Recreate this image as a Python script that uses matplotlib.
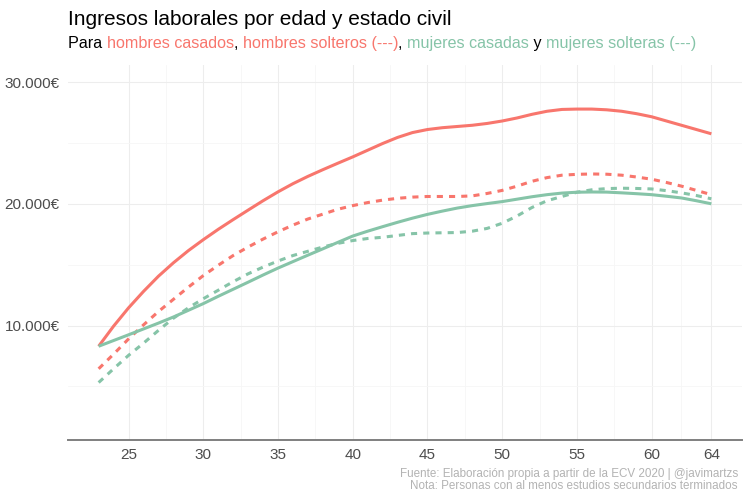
import matplotlib
matplotlib.use('Agg')
import matplotlib.pyplot as plt
from matplotlib.ticker import FuncFormatter, MultipleLocator

plt.rcParams['font.family'] = ['Liberation Sans', 'DejaVu Sans']

# Age axis
edad = list(range(23, 65))

# Smoothed labour income (EUR)
hombres_casados = [8300, 9950, 11450, 12800, 14050, 15150, 16150, 17050, 17900, 18700,
                   19480, 20250, 20980, 21650, 22250, 22800, 23330, 23850, 24400, 24950,
                   25450, 25850, 26100, 26250, 26350, 26450, 26600, 26800, 27050, 27350,
                   27600, 27750, 27780, 27780, 27720, 27600, 27400, 27150, 26800, 26450,
                   26100, 25750]
hombres_solteros = [6450, 7650, 8900, 10050, 11150, 12150, 13150, 14100, 14950, 15750,
                    16450, 17100, 17700, 18250, 18750, 19150, 19550, 19850, 20100, 20300,
                    20450, 20550, 20600, 20600, 20600, 20650, 20850, 21100, 21450, 21850,
                    22150, 22350, 22420, 22450, 22430, 22350, 22200, 22020, 21750, 21450,
                    21100, 20750]
mujeres_casadas = [8300, 8770, 9240, 9720, 10200, 10700, 11250, 11800, 12400, 12980,
                   13560, 14150, 14720, 15250, 15780, 16300, 16830, 17350, 17750, 18120,
                   18480, 18820, 19130, 19400, 19650, 19850, 20020, 20180, 20380, 20580,
                   20750, 20880, 20950, 20970, 20960, 20900, 20830, 20750, 20620, 20480,
                   20250, 20000]
mujeres_solteras = [5320, 6450, 7550, 8550, 9600, 10600, 11450, 12200, 12900, 13600,
                    14250, 14800, 15300, 15750, 16100, 16450, 16750, 16980, 17150, 17250,
                    17400, 17550, 17600, 17620, 17640, 17750, 17980, 18400, 19000, 19700,
                    20250, 20600, 20950, 21150, 21250, 21280, 21260, 21220, 21080, 20900,
                    20680, 20410]

x_ticks = [25, 30, 35, 40, 45, 50, 55, 60, 64]
y_ticks = [10000, 20000, 30000]

rojo = '#F8766D'
verde = '#86C4A8'

fig = plt.figure(figsize=(7.5, 5), dpi=100)
ax = fig.add_axes([68 / 750, 60 / 500, 674 / 750, 375 / 500])

lw = 2.2
ax.plot(edad, hombres_casados, color=rojo, lw=lw, solid_capstyle='butt')
ax.plot(edad, hombres_solteros, color=rojo, lw=lw, linestyle=(0, (2, 2)), dash_capstyle='butt')
ax.plot(edad, mujeres_casadas, color=verde, lw=lw, solid_capstyle='butt')
ax.plot(edad, mujeres_solteras, color=verde, lw=lw, linestyle=(0, (2, 2)), dash_capstyle='butt')

ax.set_xlim(20.95, 66.05)
ax.set_ylim(600, 31400)
ax.set_xticks(x_ticks)
ax.set_yticks(y_ticks)
ax.yaxis.set_minor_locator(MultipleLocator(5000))
ax.set_xticks([27.5, 32.5, 37.5, 42.5, 47.5, 52.5, 57.5, 62], minor=True)
ax.yaxis.set_major_formatter(FuncFormatter(lambda v, p: f'{int(v):,}€'.replace(',', '.')))

ax.grid(True, which='major', color='#ededed', lw=0.8)
ax.grid(True, which='minor', color='#f6f6f6', lw=0.6)
ax.set_axisbelow(True)
for s in ['top', 'right', 'left']:
    ax.spines[s].set_visible(False)
ax.spines['bottom'].set_color('#7f7f7f')
ax.spines['bottom'].set_linewidth(1.4)
ax.tick_params(which='both', length=0)
ax.tick_params(axis='x', labelsize=11, colors='#4d4d4d', pad=6)
ax.tick_params(axis='y', labelsize=11, colors='#4d4d4d', pad=6)

# Title and multicoloured subtitle
fig.text(68 / 750, 1 - 25 / 500, 'Ingresos laborales por edad y estado civil',
         fontsize=15, color='black', ha='left', va='baseline')

partes = [('Para ', 'black'), ('hombres casados', rojo), (', ', 'black'),
          ('hombres solteros (---)', rojo), (', ', 'black'), ('mujeres casadas', verde),
          (' y ', 'black'), ('mujeres solteras (---)', verde)]
prev = fig.text(68 / 750, 1 - 48 / 500, partes[0][0], fontsize=11.6, color=partes[0][1],
                ha='left', va='baseline')
for txt, col in partes[1:]:
    prev = ax.annotate(txt, xy=(1, 0), xycoords=prev, ha='left', va='bottom',
                       fontsize=11.6, color=col, annotation_clip=False)

fig.text(738 / 750, 1 - 489 / 500,
         'Fuente: Elaboración propia a partir de la ECV 2020 | @javimartzs\n'
         'Nota: Personas con al menos estudios secundarios terminados',
         fontsize=8.4, color='#b3b3b3', ha='right', va='baseline', linespacing=0.95)

fig.savefig('out.png', dpi=100)
